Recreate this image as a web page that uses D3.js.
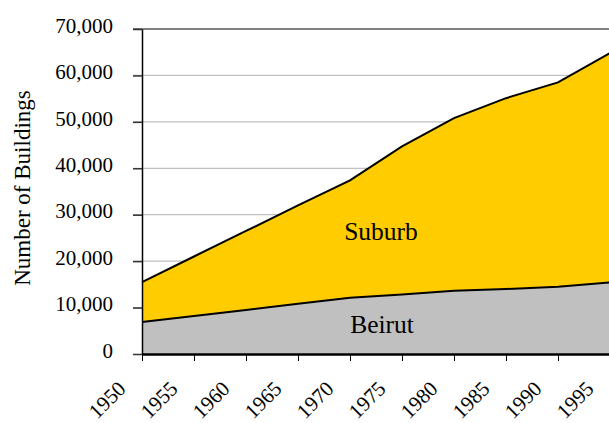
<!DOCTYPE html>
<html><head><meta charset="utf-8">
<script src="https://cdn.jsdelivr.net/npm/d3@7"></script>
<style>body{margin:0;background:#fff;} svg{display:block;} text{font-family:"Liberation Serif","Times New Roman",serif;fill:#000;}</style>
</head><body>
<svg id="c" width="609" height="423"></svg>
<script>
const years = [1950,1955,1960,1965,1970,1975,1980,1985,1990,1995];
const beirut = [6900,8200,9500,10800,12100,12800,13600,14000,14500,15400];
const suburb = [8600,12800,17000,21200,25300,31900,37200,41100,44000,49400];
const yTicks = [0,10000,20000,30000,40000,50000,60000,70000];
const seriesNames = ["Beirut","Suburb"];
const colors = {Beirut:"#C0C0C0", Suburb:"#FFCC00"};

const svg = d3.select("#c");
const x = d3.scaleLinear().domain([1950,1995]).range([142,610]);
const y = d3.scaleLinear().domain([0,70000]).range([354,29]);

const rows = years.map((yr,i)=>({year:yr, Beirut:beirut[i], Suburb:suburb[i]}));
const stack = d3.stack().keys(seriesNames)(rows);

// gridlines
svg.append("g").selectAll("line").data(yTicks.filter(t=>t>0)).join("line")
  .attr("x1",133).attr("x2",609)
  .attr("y1",d=>y(d)).attr("y2",d=>y(d))
  .attr("stroke",d=>d===70000?"#808080":"#C0C0C0")
  .attr("stroke-width",d=>d===70000?2:1.2);

const area = d3.area().x(d=>x(d.data.year)).y0(d=>y(d[0])).y1(d=>y(d[1]));
const line = d3.line().x(d=>x(d.data.year)).y(d=>y(d[1]));
svg.append("g").selectAll("path").data(stack).join("path")
  .attr("d",area).attr("fill",d=>colors[d.key]);
svg.append("g").selectAll("path").data(stack).join("path")
  .attr("d",line).attr("fill","none").attr("stroke","#000").attr("stroke-width",2);

// y axis
const yAxis = d3.axisLeft(y).tickValues(yTicks).tickSize(9).tickSizeOuter(0).tickPadding(20)
  .tickFormat(d3.format(","));
const ga = svg.append("g").attr("transform","translate(142,0)").call(yAxis);
ga.select(".domain").attr("stroke","#000").attr("stroke-width",1.5);
ga.selectAll(".tick line").attr("stroke","#333").attr("stroke-width",1.5);
ga.selectAll("text").attr("font-size",21).attr("font-family","Liberation Serif").attr("fill","#000").attr("dy","0.15em");

// x axis
const xAxis = d3.axisBottom(x).tickValues(years).tickSize(7).tickSizeOuter(0).tickFormat("");
const gx = svg.append("g").attr("transform","translate(0,354)").call(xAxis);
gx.select(".domain").attr("stroke","#000").attr("stroke-width",2.5);
gx.selectAll(".tick line").attr("stroke","#000").attr("stroke-width",1);
svg.append("g").selectAll("text").data(years).join("text")
  .attr("transform",d=>`translate(${x(d)-15},${390}) rotate(-45)`)
  .attr("text-anchor","end").attr("font-size",21).text(d=>d);

// y title
svg.append("text").attr("transform","translate(30,188) rotate(-90)")
  .attr("text-anchor","middle").attr("font-size",23).text("Number of Buildings");

// series labels
svg.append("text").attr("x",381).attr("y",240).attr("text-anchor","middle").attr("font-size",25.5).text("Suburb");
svg.append("text").attr("x",382).attr("y",333).attr("text-anchor","middle").attr("font-size",25.5).text("Beirut");
</script>
</body></html>
